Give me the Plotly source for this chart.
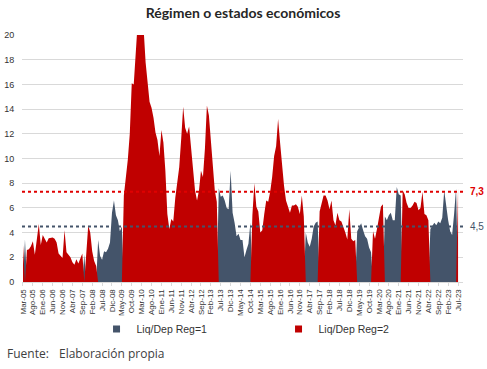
import plotly.graph_objects as go

# Monthly ratio Liquidez/Depósitos, Mar-05 .. Jul-23 (221 months)
liquidez = [
    3.0, 3.45, 2.6, 2.65, 2.9, 3.3, 2.2, 3.3, 4.7, 3.0,
    3.8, 3.5, 3.2, 3.55, 3.6, 3.6, 3.5, 3.2, 2.3, 2.1,
    1.95, 4.2, 2.4, 2.2, 2.0, 1.6, 1.4, 1.85, 1.5, 1.9,
    2.3, 2.2, 2.1, 4.6, 4.0, 2.5, 1.7, 1.3, 3.4, 2.1,
    1.8, 2.5, 2.4, 2.7, 3.2, 5.6, 6.6, 5.4, 5.0, 4.1,
    4.5, 7.0, 8.3, 9.9, 12.0, 16.1, 16.0, 18.3, 21.0, 21.0,
    21.0, 20.5, 17.8, 16.2, 14.6, 14.1, 13.3, 12.1, 11.5, 10.2,
    12.3, 11.3, 9.0, 5.5, 4.3, 5.1, 4.9, 6.8, 8.2, 9.3,
    11.6, 14.2, 12.5, 12.0, 12.6, 10.8, 9.0, 7.4, 6.6, 7.4,
    9.0, 8.5, 10.8, 14.3, 13.5, 11.4, 9.2, 7.4, 6.5, 7.6,
    6.9, 7.0, 6.6, 6.0, 5.9, 9.0, 5.6, 4.8, 3.7, 3.9,
    3.4, 3.4, 2.0, 2.6, 3.1, 4.8, 5.4, 8.0, 6.1, 5.7,
    4.0, 4.2, 5.5, 6.6, 6.5, 7.3, 8.5, 10.2, 11.0, 13.2,
    11.3, 9.5, 7.8, 6.6, 6.1, 5.6, 6.2, 6.2, 6.3, 6.1,
    5.5, 7.0, 5.3, 4.0, 3.2, 2.85, 3.5, 4.5, 4.8, 4.9,
    5.7, 6.25, 7.0, 7.0, 6.6, 5.9, 6.6, 5.0, 4.6, 5.6,
    5.0, 4.9, 4.5, 4.0, 3.45, 5.9, 3.5, 3.3, 3.4, 4.1,
    4.5, 4.75, 4.2, 3.7, 3.5, 2.8, 2.4, 4.1, 3.5, 4.3,
    5.3, 6.1, 6.3, 5.3, 5.0, 5.4, 5.6, 5.0, 5.0, 7.7,
    7.1, 7.0, 7.4, 7.1, 6.4, 6.0, 6.0, 6.2, 6.5, 6.4,
    5.8, 6.0, 7.3, 5.5, 5.4, 5.0, 4.3, 4.6, 4.8, 4.6,
    4.9, 4.75, 5.2, 7.4, 6.0, 5.0, 4.1, 3.8, 5.5, 7.6,
    7.6,
]

# Regime of each month (1 or 2)
regimen = [
    2, 1, 2, 2, 2, 2, 2, 2, 2, 2,
    2, 2, 2, 2, 2, 2, 2, 2, 2, 2,
    2, 2, 2, 2, 2, 2, 2, 2, 2, 2,
    2, 1, 2, 2, 2, 2, 2, 2, 1, 1,
    1, 1, 1, 1, 1, 1, 1, 1, 1, 1,
    1, 2, 2, 2, 2, 2, 2, 2, 2, 2,
    2, 2, 2, 2, 2, 2, 2, 2, 2, 2,
    2, 2, 2, 2, 2, 2, 2, 2, 2, 2,
    2, 2, 2, 2, 2, 2, 2, 2, 2, 2,
    2, 2, 2, 2, 2, 2, 2, 2, 2, 1,
    1, 1, 1, 1, 1, 1, 1, 1, 1, 1,
    1, 1, 1, 1, 1, 1, 2, 2, 2, 2,
    2, 2, 2, 2, 2, 2, 2, 2, 2, 2,
    2, 2, 2, 2, 2, 2, 2, 2, 2, 2,
    2, 2, 2, 1, 1, 1, 1, 1, 1, 1,
    2, 2, 2, 2, 2, 2, 2, 2, 2, 2,
    2, 2, 2, 2, 2, 2, 2, 2, 2, 1,
    1, 1, 1, 1, 1, 1, 1, 2, 2, 2,
    2, 2, 2, 1, 1, 1, 1, 1, 1, 1,
    1, 1, 2, 2, 2, 2, 2, 2, 2, 2,
    2, 2, 2, 2, 2, 2, 1, 1, 1, 1,
    1, 1, 1, 1, 1, 1, 1, 1, 1, 1,
    2,
]

tick_labels = [
    "Mar-05", "Ago-05", "Ene-06", "Jun-06", "Nov-06", "Abr-07", "Sep-07", "Feb-08",
    "Jul-08", "Dic-08", "May-09", "Oct-09", "Mar-10", "Ago-10", "Ene-11", "Jun-11",
    "Nov-11", "Abr-12", "Sep-12", "Feb-13", "Jul-13", "Dic-13", "May-14", "Oct-14",
    "Mar-15", "Ago-15", "Ene-16", "Jun-16", "Nov-16", "Abr-17", "Sep-17", "Feb-18",
    "Jul-18", "Dic-18", "May-19", "Oct-19", "Mar-20", "Ago-20", "Ene-21", "Jun-21",
    "Nov-21", "Abr-22", "Sep-22", "Feb-23", "Jul-23",
]
tick_step = 5

umbral_reg2 = 7.3
umbral_reg1 = 4.5
umbral_labels = ["7,3", "4,5"]

GRAY = "#44546a"
RED = "#c00000"

x = list(range(len(liquidez)))
y_reg1 = [v if r == 1 else 0 for v, r in zip(liquidez, regimen)]
y_reg2 = [v if r == 2 else 0 for v, r in zip(liquidez, regimen)]

fig = go.Figure()
fig.add_trace(go.Scatter(x=x, y=y_reg1, mode="lines", line=dict(width=0, color=GRAY),
                         fill="tozeroy", fillcolor=GRAY, showlegend=False,
                         name="Liq/Dep Reg=1"))
fig.add_trace(go.Scatter(x=x, y=y_reg2, mode="lines", line=dict(width=0, color=RED),
                         fill="tozeroy", fillcolor=RED, showlegend=False,
                         name="Liq/Dep Reg=2"))
# legend entries with square keys
fig.add_trace(go.Scatter(x=[None], y=[None], mode="markers", name="Liq/Dep Reg=1",
                         marker=dict(symbol="square", size=7, color=GRAY)))
fig.add_trace(go.Scatter(x=[None], y=[None], mode="markers", name="Liq/Dep Reg=2",
                         marker=dict(symbol="square", size=7, color=RED)))

# threshold lines
fig.add_shape(type="line", xref="paper", x0=0, x1=1, yref="y", y0=umbral_reg2, y1=umbral_reg2,
              line=dict(color="#e00000", width=2, dash="dot"))
fig.add_shape(type="line", xref="paper", x0=0, x1=1, yref="y", y0=umbral_reg1, y1=umbral_reg1,
              line=dict(color=GRAY, width=2, dash="dot"))
fig.add_annotation(xref="paper", x=1.012, yref="y", y=umbral_reg2, text="<b>" + umbral_labels[0] + "</b>",
                   showarrow=False, xanchor="left", font=dict(family="Liberation Sans, Arial", size=10, color="#e00000"))
fig.add_annotation(xref="paper", x=1.012, yref="y", y=umbral_reg1, text=umbral_labels[1],
                   showarrow=False, xanchor="left", font=dict(family="Liberation Sans, Arial", size=10, color=GRAY))

# footer
fig.add_annotation(xref="paper", yref="paper", x=-0.0385, y=-0.29, xanchor="left", yanchor="middle",
                   text="Fuente:", showarrow=False,
                   font=dict(family="Open Sans", size=12, color="#404040"))
fig.add_annotation(xref="paper", yref="paper", x=0.079, y=-0.29, xanchor="left", yanchor="middle",
                   text="Elaboración propia", showarrow=False,
                   font=dict(family="Open Sans", size=12, color="#404040"))

fig.update_layout(
    width=487, height=369,
    margin=dict(l=22, r=24, t=35, b=87, autoexpand=False),
    paper_bgcolor="white", plot_bgcolor="white",
    title=dict(text="<b>Régimen o estados económicos</b>", xref="container", x=0.499, xanchor="center",
               yref="container", y=0.965, yanchor="middle",
               font=dict(family="Lato", size=14, color="#262626")),
    font=dict(family="Liberation Sans, Arial", size=9, color="#333333"),
    showlegend=True,
    legend=dict(orientation="h", x=0.169, xanchor="left", y=-0.19, yanchor="middle",
                font=dict(size=10.5, color="#333333"), entrywidth=137, entrywidthmode="pixels",
                itemwidth=30, bgcolor="rgba(0,0,0,0)"),
)
fig.update_xaxes(
    range=[-0.5, 222.5],
    automargin=False,
    tickmode="array",
    tickvals=[i * tick_step for i in range(len(tick_labels))],
    ticktext=tick_labels,
    tickangle=-90,
    tickfont=dict(size=8, color="#333333"),
    showgrid=False, zeroline=False,
    showline=True, linecolor="#d9d9d9", linewidth=1,
    ticks="outside", ticklen=3, tickcolor="#d9d9d9",
)
fig.update_yaxes(
    range=[0, 20], dtick=2,
    automargin=False,
    showgrid=True, gridcolor="#d9d9d9", gridwidth=1,
    zeroline=False, showline=False,
    tickfont=dict(size=9, color="#333333"),
    ticks="outside", ticklen=5, tickcolor="rgba(0,0,0,0)",
)

# remove the default 8 px page margin so the figure fills the window exactly
fig.write_html("out.html",
               config={"displayModeBar": False},
               post_script="document.body.style.margin='0';document.body.style.overflow='hidden';")
